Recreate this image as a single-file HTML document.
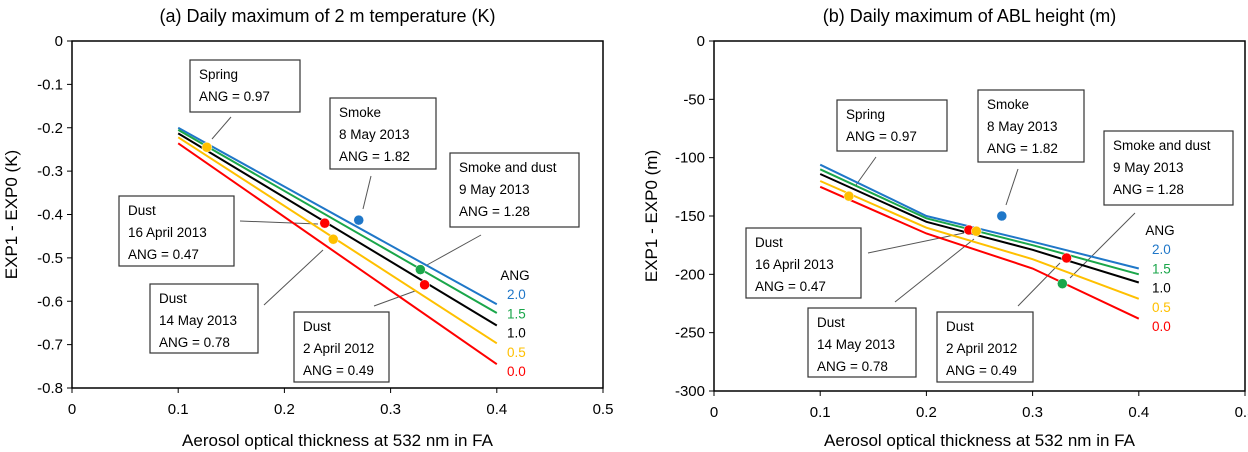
<!DOCTYPE html>
<html><head><meta charset="utf-8"><style>
body{margin:0;background:#fff;}
svg{display:block;font-family:"Liberation Sans",sans-serif;}
</style></head><body>
<svg id="c" width="1248" height="452" viewBox="0 0 1248 452"></svg>
<script>
const xTicks=[0,0.1,0.2,0.3,0.4,0.5];
const angLabels=["2.0","1.5","1.0","0.5","0.0"];
const angColors=["#1f77c8","#1aa64a","#000000","#ffc000","#ff0000"];
const aXs=[0.1,0.4];
const aSeries=[[-0.20,-0.607],[-0.205,-0.627],[-0.213,-0.656],[-0.222,-0.697],[-0.236,-0.745]];
const aYTicks=[0,-0.1,-0.2,-0.3,-0.4,-0.5,-0.6,-0.7,-0.8];
const aPtsX=[0.127,0.238,0.27,0.246,0.328,0.332];
const aPtsY=[-0.245,-0.42,-0.413,-0.457,-0.527,-0.562];
const bXs=[0.1,0.2,0.3,0.4];
const bSeries=[[-106,-150,-172,-195],[-110,-152,-175,-200],[-114,-155,-179,-207],[-120,-160,-187,-221],[-125,-165,-195,-238]];
const bYTicks=[0,-50,-100,-150,-200,-250,-300];
const bPtsX=[0.127,0.24,0.247,0.271,0.332,0.328];
const bPtsY=[-133,-162,-163,-150,-186,-208];
const aPtsC=["#ffc000","#ff0000","#1f77c8","#ffc000","#1aa64a","#ff0000"];
const bPtsC=["#ffc000","#ff0000","#ffc000","#1f77c8","#ff0000","#1aa64a"];

const svg=document.getElementById('c');
const NS="http://www.w3.org/2000/svg";
function mk(tag,at,parent){const e=document.createElementNS(NS,tag);for(const k in at)e.setAttribute(k,at[k]);(parent||svg).appendChild(e);return e;}
function txt(s,x,y,at,parent){const e=mk('text',Object.assign({x:x,y:y,'font-size':15,fill:'#000'},at||{}),parent);e.textContent=s;return e;}

function panel(cfg){
  const g=mk('g',{});
  
  
  const {x0,x1,y0,y1,ymin,ymax}=cfg;
  const X=v=>x0+(v-0)/(0.5)*(x1-x0);
  const Y=v=>y0+(ymax-v)/(ymax-ymin)*(y1-y0);
  const t=txt(cfg.title,(x0+x1)/2-10,22,{'font-size':18,'text-anchor':'middle'},g);
  
  const fr=mk('rect',{x:x0,y:y0,width:x1-x0,height:y1-y0,fill:'none',stroke:'#000','stroke-width':1.5},g);
  
  xTicks.forEach(v=>{
    mk('line',{x1:X(v),x2:X(v),y1:y1,y2:y1+5,stroke:'#000'},g);
    const l=txt(String(v),X(v),y1+26,{'text-anchor':'middle'},g);
    
  });
  cfg.yTicks.forEach(v=>{
    mk('line',{x1:x0-5,x2:x0,y1:Y(v),y2:Y(v),stroke:'#000'},g);
    const l=txt(String(v),x0-9,Y(v)+5,{'text-anchor':'end'},g);
    
  });
  const xt=txt('Aerosol optical thickness at 532 nm in FA',(x0+x1)/2,446,{'font-size':17,'text-anchor':'middle'},g);
  
  const yt=txt(cfg.ytitle,0,0,{'font-size':17,'text-anchor':'middle',transform:`translate(${cfg.ytx},${(y0+y1)/2}) rotate(-90)`},g);
  
  cfg.leaders.forEach(p=>{const l=mk('line',{x1:p[0],y1:p[1],x2:p[2],y2:p[3],stroke:'#555','stroke-width':1},g);
    });
  cfg.series.forEach((s,i)=>{
    const pl=mk('polyline',{points:s.map((v,j)=>X(cfg.xs[j])+','+Y(v)).join(' '),fill:'none',stroke:angColors[i],'stroke-width':2},g);
    
  });
  cfg.px.forEach((v,i)=>{
    const c=mk('circle',{cx:X(v),cy:Y(cfg.py[i]),r:5,fill:cfg.pc[i],stroke:'#fff','stroke-width':0.5},g);
    
  });
  cfg.boxes.forEach(b=>{
    const bg=mk('g',{},g);
    
    mk('rect',{x:b[0],y:b[1],width:b[2]-b[0],height:b[3]-b[1],fill:'#fff',stroke:'#333','stroke-width':1.2},bg);
    b[4].forEach((s,k)=>txt(s,b[0]+9,b[1]+19+k*22,{'font-size':13.5},bg));
  });
  const lg=mk('g',{},g);
  txt('ANG',cfg.lx+10,cfg.ly,{'font-size':13.5,'text-anchor':'middle'},lg);
  angLabels.forEach((a,i)=>txt(a,cfg.lx+2,cfg.ly+19+i*19.3,{'font-size':13.5,fill:angColors[i]},lg));
}

panel({name:'panel-a-temperature',title:'(a) Daily maximum of 2 m temperature (K)',x0:72,x1:603,y0:41,y1:388,ymin:-0.8,ymax:0,
  yTicks:aYTicks,ytitle:'EXP1 - EXP0 (K)',ytx:17,xs:aXs,series:aSeries,px:aPtsX,py:aPtsY,pc:aPtsC,
  leaders:[[231,117,212,139],[371,176,363,209],[481,235,427,265],[240,221,318,224],[323,250,264,305],[415,291,374,306]],
  boxes:[[190,60,300,112,['Spring','ANG = 0.97']],[330,98,436,169,['Smoke','8 May 2013','ANG = 1.82']],
    [450,153,579,227,['Smoke and dust','9 May 2013','ANG = 1.28']],[119,196,234,266,['Dust','16 April 2013','ANG = 0.47']],
    [150,284,258,353,['Dust','14 May 2013','ANG = 0.78']],[294,312,389,382,['Dust','2 April 2012','ANG = 0.49']]],
  lx:505,ly:280});
panel({name:'panel-b-abl-height',title:'(b) Daily maximum of ABL height (m)',x0:714,x1:1245,y0:41,y1:391,ymin:-300,ymax:0,
  yTicks:bYTicks,ytitle:'EXP1 - EXP0 (m)',ytx:657,xs:bXs,series:bSeries,px:bPtsX,py:bPtsY,pc:bPtsC,
  leaders:[[876,157,856,185],[1018,169,1006,205],[1135,213,1070,278],[868,253,964,233],[895,302,974,239],[1018,306,1060,263]],
  boxes:[[837,100,947,151,['Spring','ANG = 0.97']],[978,90,1084,162,['Smoke','8 May 2013','ANG = 1.82']],
    [1104,131,1233,205,['Smoke and dust','9 May 2013','ANG = 1.28']],[746,228,861,298,['Dust','16 April 2013','ANG = 0.47']],
    [808,308,916,377,['Dust','14 May 2013','ANG = 0.78']],[937,312,1033,382,['Dust','2 April 2012','ANG = 0.49']]],
  lx:1150,ly:235});
</script>
</body></html>
